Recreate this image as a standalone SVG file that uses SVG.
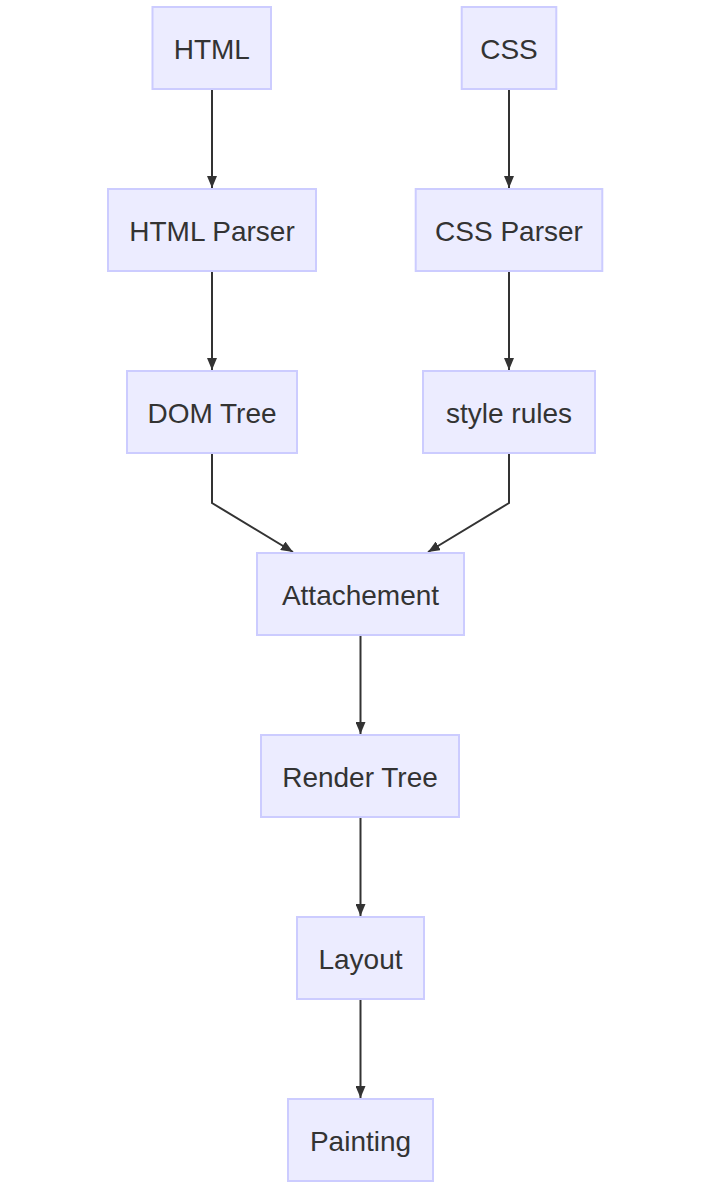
<svg xmlns="http://www.w3.org/2000/svg" width="728" height="1202" viewBox="0 0 728 1202">
<style>
.node rect{fill:#ECECFF;stroke:#CCCCFF;stroke-width:2}
.node text{font-family:"Liberation Sans",Arial,sans-serif;font-size:28px;fill:#333333;text-anchor:middle}
.edge{fill:none;stroke:#333333;stroke-width:2}
</style>
<defs>
<marker id="arrow" viewBox="0 0 12 10" refX="12" refY="5" markerWidth="12" markerHeight="10" markerUnits="userSpaceOnUse" orient="auto">
<path d="M0,0 L12,5 L0,10 z" fill="#333333"/>
</marker>
</defs>
<rect width="728" height="1202" fill="#ffffff"/>
<g id="connectors">
<path class="edge" d="M212,89 V188" marker-end="url(#arrow)"/>
<path class="edge" d="M509,89 V188" marker-end="url(#arrow)"/>
<path class="edge" d="M212,270 V370" marker-end="url(#arrow)"/>
<path class="edge" d="M509,270 V370" marker-end="url(#arrow)"/>
<path class="edge" d="M212,453 V503 L293,552" marker-end="url(#arrow)"/>
<path class="edge" d="M509,453 V503 L428,552" marker-end="url(#arrow)"/>
<path class="edge" d="M360.5,635 V734" marker-end="url(#arrow)"/>
<path class="edge" d="M360.5,817 V916" marker-end="url(#arrow)"/>
<path class="edge" d="M360.5,999 V1098" marker-end="url(#arrow)"/>
</g>
<g id="html" class="node"><rect x="152.5" y="7" width="118.5" height="82"/><text x="211.8" y="59">HTML</text></g>
<g id="css" class="node"><rect x="461.7" y="7" width="94.6" height="82"/><text x="509" y="59">CSS</text></g>
<g id="htmlparser" class="node"><rect x="108" y="189" width="208" height="82"/><text x="212" y="241">HTML Parser</text></g>
<g id="cssparser" class="node"><rect x="415.7" y="189" width="186.6" height="82"/><text x="509" y="241">CSS Parser</text></g>
<g id="domtree" class="node"><rect x="127" y="371" width="170" height="82"/><text x="212" y="423">DOM Tree</text></g>
<g id="stylerules" class="node"><rect x="423" y="371" width="172" height="82"/><text x="509" y="423">style rules</text></g>
<g id="attachement" class="node"><rect x="257" y="553" width="207" height="82"/><text x="360.5" y="605">Attachement</text></g>
<g id="rendertree" class="node"><rect x="261" y="735" width="198" height="82"/><text x="360" y="787">Render Tree</text></g>
<g id="layout" class="node"><rect x="297" y="917" width="127" height="82"/><text x="360.5" y="969">Layout</text></g>
<g id="painting" class="node"><rect x="288" y="1099" width="145" height="82"/><text x="360.5" y="1151">Painting</text></g>
</svg>
